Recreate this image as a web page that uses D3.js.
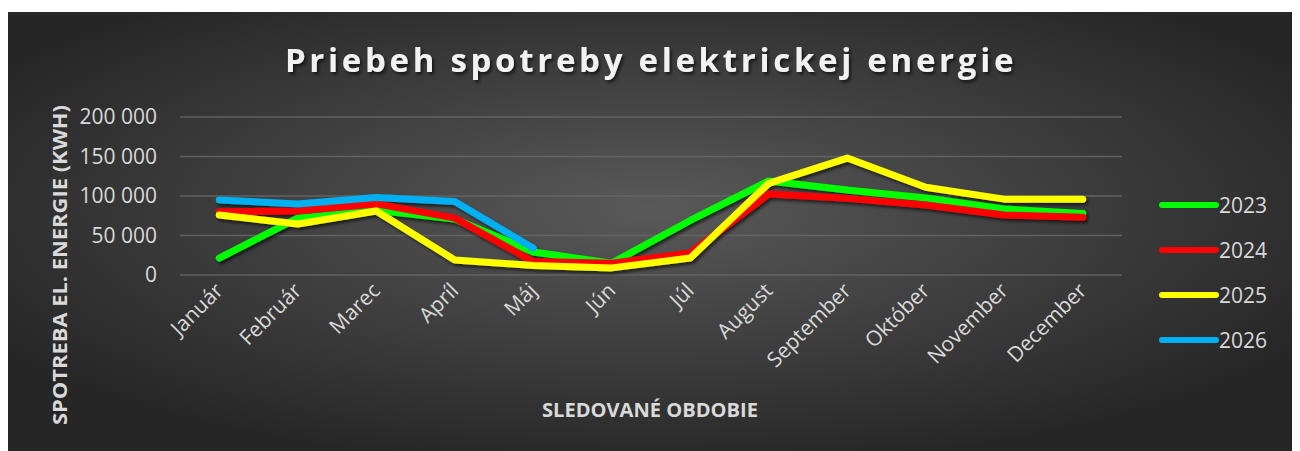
<!DOCTYPE html>
<html>
<head>
<meta charset="utf-8">
<script src="https://cdn.jsdelivr.net/npm/d3@7"></script>
<style>
  body { margin: 0; background: #fff; }
  svg { display: block; }
  text { font-family: "Open Sans", "Noto Sans", sans-serif; }
</style>
</head>
<body>
<svg id="chart" width="1300" height="451"></svg>
<script>
// months on the x axis
var months = ["Január", "Február", "Marec", "Apríl", "Máj", "Jún", "Júl",
  "August", "September", "Október", "November", "December"];

// consumption per year (kWh)
var years = ["2023", "2024", "2025", "2026"];
var colors = ["#00ff00", "#ff0000", "#ffff00", "#00b0f0"];
var v2023 = [21500, 72000, 82000, 71000, 29000, 15000, 69000, 119000, 107500, 97500, 83500, 78000];
var v2024 = [80000, 81000, 90000, 72000, 17000, 15000, 28000, 102500, 97000, 88500, 76000, 73000];
var v2025 = [76000, 64500, 81000, 19000, 12000, 9000, 21500, 116000, 148000, 111000, 96000, 96000];
var v2026 = [95000, 90000, 98000, 93000, 34000];
var yTicks = [0, 50000, 100000, 150000, 200000];

var series = [v2023, v2024, v2025, v2026];

var svg = d3.select("#chart");
var W = 1300, H = 451;

var defs = svg.append("defs");
var grad = defs.append("radialGradient").attr("id", "bg")
  .attr("cx", "50%").attr("cy", "45%").attr("r", "60%");
grad.append("stop").attr("offset", "0%").attr("stop-color", "#595959");
grad.append("stop").attr("offset", "100%").attr("stop-color", "#262626");

var shadow = defs.append("filter").attr("id", "shadow")
  .attr("x", "-10%").attr("y", "-10%").attr("width", "120%").attr("height", "130%");
shadow.append("feDropShadow").attr("dx", 2).attr("dy", 2.5)
  .attr("stdDeviation", 1.8).attr("flood-color", "#000").attr("flood-opacity", 0.6);

svg.append("rect").attr("x", 8).attr("y", 12).attr("width", 1284).attr("height", H - 12)
  .attr("fill", "url(#bg)");

var x = d3.scaleBand().domain(months).range([180, 1122]);
var y = d3.scaleLinear().domain([0, 200000]).range([275, 117]);

// gridlines
svg.append("g").selectAll("line").data(yTicks).join("line")
  .attr("x1", 180).attr("x2", 1122)
  .attr("y1", function(d) { return y(d); }).attr("y2", function(d) { return y(d); })
  .attr("stroke", "#6a6a6a").attr("stroke-width", 1.3).attr("opacity", 0.8);

// y axis labels
var fmt = function(d) { return d3.format(",")(d).replace(/,/g, " "); };
svg.append("g").selectAll("text").data(yTicks).join("text")
  .attr("x", 157).attr("y", function(d) { return y(d); })
  .attr("dy", "0.35em").attr("text-anchor", "end")
  .attr("fill", "#d9d9d9").attr("font-size", 21)
  .text(fmt);

// x axis labels
svg.append("g").selectAll("text").data(months).join("text")
  .attr("transform", function(d) {
    return "translate(" + (x(d) + x.bandwidth() / 2 + 5) + ",292) rotate(-45)";
  })
  .attr("text-anchor", "end").attr("fill", "#d9d9d9").attr("font-size", 21)
  .text(function(d) { return d; });

// lines
var line = d3.line()
  .x(function(d, i) { return x(months[i]) + x.bandwidth() / 2; })
  .y(function(d) { return y(d); });

svg.append("g").attr("filter", "url(#shadow)").selectAll("path").data(series).join("path")
  .attr("d", line)
  .attr("fill", "none")
  .attr("stroke", function(d, i) { return colors[i]; })
  .attr("stroke-width", 7)
  .attr("stroke-linecap", "round").attr("stroke-linejoin", "round");

// legend
var lg = svg.append("g").selectAll("g").data(years).join("g")
  .attr("transform", function(d, i) { return "translate(1160," + (205 + i * 45) + ")"; });
lg.append("line").attr("x1", 2).attr("x2", 56).attr("y1", 0).attr("y2", 0)
  .attr("stroke", function(d, i) { return colors[i]; })
  .attr("stroke-width", 6).attr("stroke-linecap", "round");
lg.append("text").attr("x", 59).attr("dy", "0.36em")
  .attr("fill", "#d9d9d9").attr("font-size", 21)
  .text(function(d) { return d; });

// title
svg.append("text").attr("x", 651).attr("y", 72).attr("text-anchor", "middle")
  .attr("fill", "#f2f2f2").attr("font-size", 33).attr("font-weight", "bold")
  .attr("letter-spacing", 3.7).attr("filter", "url(#shadow)")
  .text("Priebeh spotreby elektrickej energie");

// axis titles
svg.append("text").attr("x", 650).attr("y", 417).attr("text-anchor", "middle")
  .attr("fill", "#d9d9d9").attr("font-size", 19).attr("font-weight", "bold")
  .attr("textLength", 216).attr("lengthAdjust", "spacingAndGlyphs")
  .text("SLEDOVANÉ OBDOBIE");

svg.append("text").attr("transform", "translate(67,265) rotate(-90)")
  .attr("text-anchor", "middle")
  .attr("fill", "#d9d9d9").attr("font-size", 19).attr("font-weight", "bold")
  .attr("textLength", 320).attr("lengthAdjust", "spacingAndGlyphs")
  .text("SPOTREBA EL. ENERGIE (KWH)");
</script>
</body>
</html>
